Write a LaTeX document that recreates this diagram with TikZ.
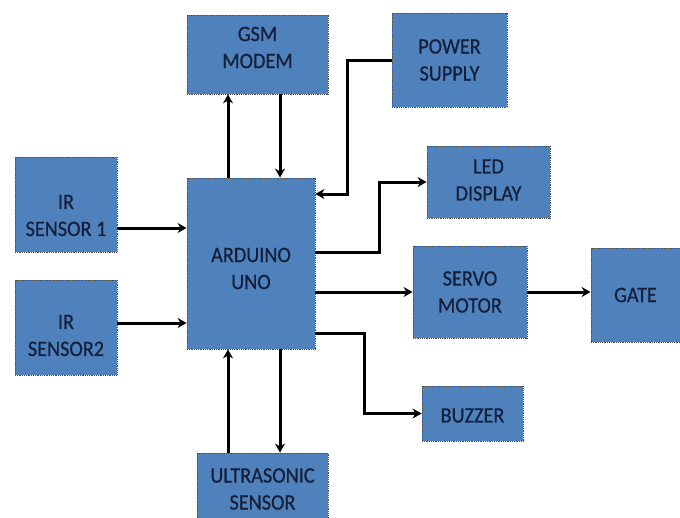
\documentclass[tikz,border=0pt]{standalone}
\usepackage{fontspec}
\setmainfont[FakeStretch=0.92,FakeBold=0.6]{Carlito}
\usetikzlibrary{arrows.meta,calc}
\definecolor{boxblue}{HTML}{4F81BD}
\definecolor{boxtext}{HTML}{14203A}
\tikzset{
  blk/.style={draw=black!70, densely dotted, line width=0.8pt, fill=boxblue,
    inner sep=0pt},
  txt/.style={text=boxtext, align=center, inner sep=0pt,
    font=\fontsize{22}{27}\selectfont},
  arr/.style={draw=black, line width=3pt, solid,
    -{Stealth[length=9pt,width=10pt]}}
}
\begin{document}
\begin{tikzpicture}[x=1pt,y=-1pt]
\useasboundingbox (0,0) rectangle (680,517);
\clip (0,0) rectangle (680,517);
\node[blk, minimum width=141pt, minimum height=79pt,
  label={[txt,yshift=7pt]center:{GSM\\MODEM}}] (gsm) at (257.5,54.5) {};
\node[blk, minimum width=115pt, minimum height=94pt,
  label={[txt]center:{POWER\\SUPPLY}}] (ps) at (449.5,60) {};
\node[blk, minimum width=123pt, minimum height=72pt,
  label={[txt,yshift=2pt]center:{LED\\DISPLAY}}] (led) at (488.5,182) {};
\node[blk, minimum width=128pt, minimum height=171pt,
  label={[txt,yshift=-5pt]center:{ARDUINO\\UNO}}] (ard) at (251,263.5) {};
\node[blk, minimum width=114pt, minimum height=92pt,
  label={[txt]center:{SERVO\\MOTOR}}] (servo) at (470,292) {};
\node[blk, minimum width=89pt, minimum height=94pt,
  label={[txt]center:{GATE}}] (gate) at (635.5,295) {};
\node[blk, minimum width=101pt, minimum height=55pt,
  label={[txt,yshift=-2pt]center:{BUZZER}}] (buzzer) at (472.5,413.5) {};
\node[blk, minimum width=131pt, minimum height=72pt,
  label={[txt]center:{ULTRASONIC\\SENSOR}}] (ultra) at (262.5,489) {};
\node[blk, minimum width=102pt, minimum height=95pt,
  label={[txt,yshift=-11pt]center:{IR\\SENSOR 1}}] (ir1) at (66,204.5) {};
\node[blk, minimum width=102pt, minimum height=95pt,
  label={[txt,yshift=-8pt]center:{IR\\SENSOR2}}] (ir2) at (66,327.5) {};
\coordinate (pbend) at (347,0);
\coordinate (lbend) at (379,0);
\coordinate (bbend) at (364,0);
% GSM
\draw[arr] ([xshift=-23pt]ard.north) -- ([xshift=-23pt]ard.north |- gsm.south);
\draw[arr] ([xshift=29pt]ard.north |- gsm.south) -- ([xshift=29pt]ard.north);
% power supply
\draw[arr] (ps.west) -- (ps.west -| pbend) |- ([yshift=69.5pt]ard.east);
% LED
\draw[arr] ([yshift=11.5pt]ard.east) -- ([yshift=11.5pt]ard.east -| lbend) |- (led.west);
% servo
\draw[arr] (servo.west -| ard.east) -- (servo.west);
\draw[arr] (servo.east) -- (servo.east -| gate.west);
% buzzer
\draw[arr] ([yshift=-69.5pt]ard.east) -- ([yshift=-69.5pt]ard.east -| bbend) |- (buzzer.west);
% IR sensors
\draw[arr] ([yshift=-23.5pt]ir1.east) -- ([yshift=-23.5pt]ir1.east -| ard.west);
\draw[arr] ([yshift=4.5pt]ir2.east) -- ([yshift=4.5pt]ir2.east -| ard.west);
% ultrasonic
\draw[arr] ([xshift=-23pt]ard.south |- ultra.north) -- ([xshift=-23pt]ard.south);
\draw[arr] ([xshift=29pt]ard.south) -- ([xshift=29pt]ard.south |- ultra.north);
\end{tikzpicture}
\end{document}
